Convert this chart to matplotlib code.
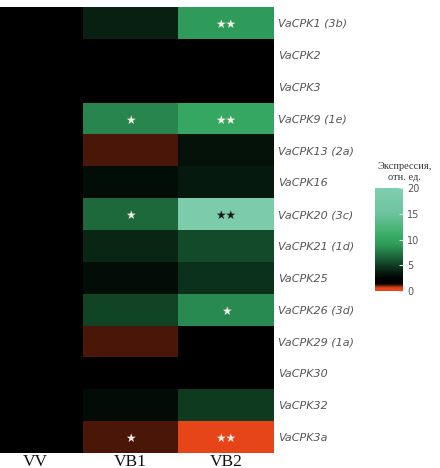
import numpy as np
import matplotlib
matplotlib.use("Agg")
import matplotlib.pyplot as plt
from matplotlib.colors import LinearSegmentedColormap

# Relative expression of VaCPK genes in three sample groups
genes = ["VaCPK1 (3b)", "VaCPK2", "VaCPK3", "VaCPK9 (1e)", "VaCPK13 (2a)",
         "VaCPK16", "VaCPK20 (3c)", "VaCPK21 (1d)", "VaCPK25", "VaCPK26 (3d)",
         "VaCPK29 (1a)", "VaCPK30", "VaCPK32", "VaCPK3a"]
groups = ["VV", "VB1", "VB2"]

vv = [1.8, 1.8, 1.8, 1.8, 1.8, 1.8, 1.8, 1.8, 1.8, 1.8, 1.8, 1.8, 1.8, 1.8]
vb1 = [3.8, 1.8, 1.8, 8.1, 1.15, 3.0, 6.9, 4.0, 3.0, 5.3, 1.15, 1.8, 2.9, 1.15]
vb2 = [9.0, 1.8, 1.8, 10.4, 3.2, 3.5, 19.0, 5.6, 4.5, 8.3, 1.8, 1.8, 4.9, 0.2]

# significance marks: (row, column, text)
marks = [(0, 2, "**"), (3, 1, "*"), (3, 2, "**"), (6, 1, "*"), (6, 2, "**"),
         (9, 2, "*"), (13, 1, "*"), (13, 2, "**")]

cbar_ticks = [0, 5, 10, 15, 20]

data = np.column_stack([vv, vb1, vb2])

cmap = LinearSegmentedColormap.from_list("expr", [
    (0.00, "#e8461a"),
    (0.03, "#e2441a"),
    (0.07, "#000000"),
    (0.12, "#000000"),
    (0.25, "#0f3d22"),
    (0.45, "#2e9b5a"),
    (0.55, "#3aad68"),
    (0.75, "#6cc49e"),
    (1.00, "#80ceb0"),
], N=512)

fig = plt.figure(figsize=(4.4, 4.68), dpi=100)
ax = fig.add_axes([-13 / 440, 15 / 468, 287 / 440, 446 / 468])
im = ax.imshow(data, aspect="auto", cmap=cmap, vmin=0, vmax=20,
               interpolation="nearest")

for r, c, txt in marks:
    color = "#1a1a1a" if data[r, c] > 15 else "#f2eee4"
    ax.text(c, r + 0.05, txt.replace("*", "\u2605"), ha="center", va="center",
            fontsize=8.5, color=color, family="DejaVu Sans")

ax.set_xticks(range(len(groups)))
ax.set_xticklabels(groups, family="Liberation Serif", fontsize=12.5, color="#111111")
ax.set_yticks(range(len(genes)))
ax.set_yticklabels(genes, fontsize=8, style="italic", color="#555555")
ax.yaxis.tick_right()
ax.tick_params(length=0, pad=3)
ax.tick_params(axis="x", pad=0.5)
for s in ax.spines.values():
    s.set_visible(False)

cax = fig.add_axes([375 / 440, 177 / 468, 28 / 440, 103 / 468])
cb = fig.colorbar(im, cax=cax, ticks=cbar_ticks)
cb.outline.set_visible(False)
cax.tick_params(labelsize=7, labelcolor="#555555", length=3, color="#dddddd",
                direction="in", pad=3)
cax.text(1.05, 1.06, "Экспрессия,\nотн. ед.", transform=cax.transAxes,
         ha="center", va="bottom", family="Liberation Serif", fontsize=7.5,
         color="#333333", linespacing=1.3)

fig.savefig("out.png", dpi=100)
